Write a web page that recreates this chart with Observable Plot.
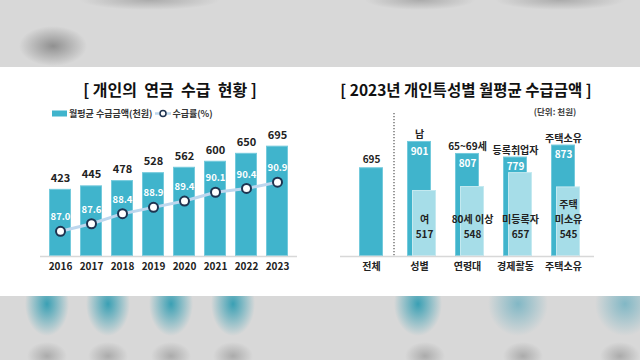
<!DOCTYPE html>
<html><head><meta charset="utf-8">
<script src="https://cdn.jsdelivr.net/npm/d3@7"></script>
<script src="https://cdn.jsdelivr.net/npm/@observablehq/plot@0.6"></script>
<style>
body{margin:0;width:640px;height:360px;overflow:hidden;position:relative;background:#d8d8d8;font-family:"Noto Sans CJK KR","Noto Sans",sans-serif;}
#bgTop{position:absolute;left:0;top:0;width:640px;height:67px;
 background:
 radial-gradient(ellipse 34px 20px at 53px 46px, rgba(140,140,140,0.95), rgba(216,216,216,0) 100%),
 radial-gradient(ellipse 70px 10px at 150px 0px, rgba(160,160,160,0.8), rgba(216,216,216,0) 100%),
 radial-gradient(ellipse 55px 10px at 420px 0px, rgba(160,160,160,0.8), rgba(216,216,216,0) 100%),
 radial-gradient(ellipse 65px 10px at 560px 0px, rgba(160,160,160,0.8), rgba(216,216,216,0) 100%),
 radial-gradient(ellipse 25px 12px at 235px 80px, rgba(170,170,170,0.7), rgba(216,216,216,0) 100%),
 #d8d8d8;}
#bgBot{position:absolute;left:0;top:296px;width:640px;height:64px;
 background:
 radial-gradient(ellipse 22px 32px at 47px 8px, rgba(58,160,180,1), rgba(216,216,216,0) 100%),
 radial-gradient(ellipse 22px 32px at 108px 8px, rgba(58,160,180,1), rgba(216,216,216,0) 100%),
 radial-gradient(ellipse 22px 32px at 171px 8px, rgba(58,160,180,1), rgba(216,216,216,0) 100%),
 radial-gradient(ellipse 22px 32px at 233px 8px, rgba(58,160,180,1), rgba(216,216,216,0) 100%),
 radial-gradient(ellipse 24px 32px at 418px 8px, rgba(58,160,180,1), rgba(216,216,216,0) 100%),
 radial-gradient(ellipse 30px 32px at 518px 8px, rgba(120,180,195,0.9), rgba(216,216,216,0) 100%),
 radial-gradient(ellipse 30px 32px at 625px 8px, rgba(120,180,195,0.9), rgba(216,216,216,0) 100%),
 radial-gradient(ellipse 20px 14px at 47px 60px, rgba(160,160,160,0.8), rgba(216,216,216,0) 100%),
 radial-gradient(ellipse 20px 14px at 108px 60px, rgba(160,160,160,0.8), rgba(216,216,216,0) 100%),
 radial-gradient(ellipse 20px 14px at 171px 60px, rgba(160,160,160,0.8), rgba(216,216,216,0) 100%),
 radial-gradient(ellipse 20px 14px at 233px 60px, rgba(160,160,160,0.8), rgba(216,216,216,0) 100%),
 radial-gradient(ellipse 20px 14px at 425px 60px, rgba(160,160,160,0.8), rgba(216,216,216,0) 100%),
 radial-gradient(ellipse 20px 14px at 523px 60px, rgba(160,160,160,0.8), rgba(216,216,216,0) 100%),
 radial-gradient(ellipse 20px 14px at 620px 60px, rgba(160,160,160,0.8), rgba(216,216,216,0) 100%),
 #d8d8d8;}
#panel{position:absolute;left:0;top:67px;width:640px;height:229px;background:#fff;}
.abs{position:absolute;}
.title{font-weight:700;font-size:16px;color:#111;white-space:nowrap;transform:translate(-50%,-50%);}
.legend{font-weight:700;font-size:9px;color:#333;white-space:nowrap;display:flex;align-items:center;transform:translateY(-50%);}
.unit{font-weight:700;font-size:8.5px;color:#444;white-space:nowrap;transform:translate(-50%,-50%);}
svg{font-family:"Noto Sans CJK KR","Noto Sans",sans-serif;overflow:visible;}
</style></head>
<body>
<div id="bgTop"></div><div id="bgBot"></div>
<div id="panel"></div>
<div class="abs title" style="left:170px;top:89px;">[ 개인의&nbsp; 연금&nbsp; 수급&nbsp; 현황 ]</div>
<div class="abs title" style="left:466px;top:89px;font-size:15.5px;">[ 2023년 개인특성별 월평균 수급금액 ]</div>
<div class="abs legend" style="left:52px;top:113px;">
  <span style="display:inline-block;width:15px;height:6px;background:#40b4cc;margin-right:2px;"></span>월평균 수급금액(천원)
  <svg width="16" height="10" style="margin-left:3px;margin-right:1px;"><line x1="0" y1="5" x2="16" y2="5" stroke="#bdd7ee" stroke-width="2.5"/><circle cx="8" cy="5" r="3" fill="#fff" stroke="#1e3350" stroke-width="1.5"/></svg>수급률(%)
</div>
<div class="abs unit" style="left:555px;top:111px;">(단위: 천원)</div>
<div id="left" class="abs" style="left:0;top:120px;"></div>
<div id="leftLine" class="abs" style="left:0;top:120px;"></div>
<div id="right" class="abs" style="left:320px;top:100px;"></div>
<script>
// ---- data ----
const years = ["2016","2017","2018","2019","2020","2021","2022","2023"];
const amounts = [423,445,478,528,562,600,650,695];
const rates = [87.0,87.6,88.4,88.9,89.4,90.1,90.4,90.9];

const groups = ["전체","성별","연령대","경제활동","주택소유"];
const mainNames = ["전체","남","65~69세","등록취업자","주택소유"];
const mainValues = [695,901,807,779,873];
const subNames = ["여","80세 이상","미등록자","주택\n미소유"];
const subValues = [517,548,657,545];

const dark = "#40b4cc", light = "#a6dde8";

const leftData = years.map((y,i)=>({year:y, amount:amounts[i], rate:rates[i]}));
const xLeft = {type:"band", domain:years, paddingInner:0.29, paddingOuter:0.29, label:null};

const left = Plot.plot({
  width:320, height:160, marginTop:9, marginBottom:24, marginLeft:40, marginRight:23,
  x:xLeft, y:{domain:[0,800], axis:null},
  marks:[
    Plot.barY(leftData,{x:"year", y:"amount", fill:dark, stroke:"#74cadc", strokeWidth:1, inset:0.5}),
    Plot.ruleY([0],{stroke:"#d8d8d8", strokeWidth:1.5}),
    Plot.text(leftData,{x:"year", y:"amount", text:d=>String(d.amount), dy:-11, fontSize:11, fontWeight:700, fill:"#222"}),
    Plot.axisX({tickSize:0, tickPadding:6, fontSize:10, fontWeight:700, fill:"#222", label:null})
  ]
});
document.getElementById("left").append(left);

const leftLine = Plot.plot({
  width:320, height:160, marginTop:10, marginBottom:24, marginLeft:40, marginRight:23,
  x:{...xLeft, axis:null}, y:{domain:[85,95], axis:null},
  marks:[
    Plot.line(leftData,{x:"year", y:"rate", stroke:"#bdd7ee", strokeWidth:3}),
    Plot.dot(leftData,{x:"year", y:"rate", r:4.5, fill:"#fff", stroke:"#1e3350", strokeWidth:2}),
    Plot.text(leftData,{x:"year", y:"rate", text:d=>d.rate.toFixed(1), dy:-14, fontSize:9.5, fontWeight:700, fill:"#fff"})
  ]
});
document.getElementById("leftLine").append(leftLine);

const mainData = groups.map((g,i)=>({group:g, name:mainNames[i], value:mainValues[i]}));
const subData = groups.slice(1).map((g,i)=>({group:g, name:subNames[i], value:subValues[i]}));

const right = Plot.plot({
  width:320, height:180, marginTop:13, marginBottom:24, marginLeft:20, marginRight:46,
  x:{type:"band", domain:groups, paddingInner:0.51, paddingOuter:0.347, label:null},
  y:{domain:[0,1120], axis:null},
  marks:[
    Plot.ruleX(["성별"],{dx:-25.5, stroke:"#555", strokeWidth:1.2, strokeDasharray:"1.2,1.8"}),
    Plot.barY(mainData,{x:"group", y:"value", fill:dark, stroke:"#74cadc", strokeWidth:1, inset:0.5}),
    Plot.barY(subData,{x:"group", y:"value", fill:light, stroke:"#c4e9f0", strokeWidth:1, inset:0.5, dx:5}),
    Plot.ruleY([0],{stroke:"#d8d8d8", strokeWidth:1.5}),
    Plot.text(mainData.filter(d=>d.group==="전체"),{x:"group", y:"value", text:d=>String(d.value), dy:-8, fontSize:10, fontWeight:700, fill:"#222"}),
    Plot.text(mainData.filter(d=>d.group!=="전체"),{x:"group", y:"value", text:"name", dy:-3, lineAnchor:"bottom", fontSize:10, fontWeight:700, fill:"#222"}),
    Plot.text(mainData.filter(d=>d.group!=="전체"),{x:"group", y:"value", text:d=>String(d.value), dy:10, fontSize:10, fontWeight:700, fill:"#fff"}),
    Plot.text(subData,{x:"group", frameAnchor:"bottom", text:d=>d.name+"\n"+d.value, dx:5, dy:-19, lineAnchor:"bottom", lineHeight:1.5, fontSize:10, fontWeight:700, fill:"#222"}),
    Plot.axisX({tickSize:0, tickPadding:6, fontSize:10, fontWeight:700, fill:"#222", label:null})
  ]
});
document.getElementById("right").append(right);
</script>
</body></html>
